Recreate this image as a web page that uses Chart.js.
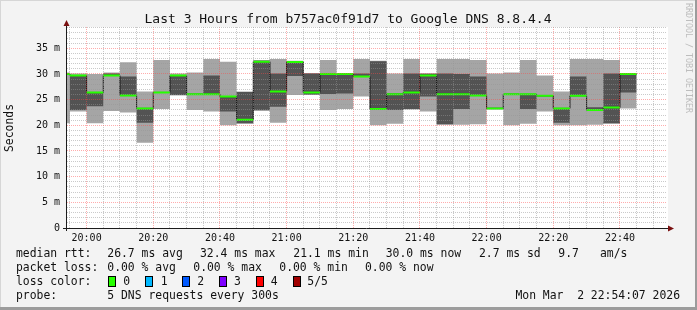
<!DOCTYPE html>
<html>
<head>
<meta charset="utf-8">
<script src="https://cdn.jsdelivr.net/npm/chart.js@4/dist/chart.umd.min.js"></script>
<style>
  html, body { margin: 0; padding: 0; background: #f3f3f3; }
  #wrap { width: 697px; height: 310px; }
</style>
</head>
<body>
<div id="wrap"><canvas id="rrd" width="697" height="310"></canvas></div>
<script>
// --- data: one entry per 5 minute bin, keyed by bin end time ---
const binEnds = ['19:55', '20:00', '20:05', '20:10', '20:15', '20:20', '20:25', '20:30', '20:35', '20:40',
  '20:45', '20:50', '20:55', '21:00', '21:05', '21:10', '21:15', '21:20', '21:25', '21:30',
  '21:35', '21:40', '21:45', '21:50', '21:55', '22:00', '22:05', '22:10', '22:15', '22:20',
  '22:25', '22:30', '22:35', '22:40', '22:45'];

// sorted ping values (ms), 5 pings per bin
const pingMin = [20.4, 22.7, 20.4, 22.8, 22.5, 16.6, 23.2, 25.8, 23.0, 22.7,
  20.0, 20.3, 22.8, 20.5, 25.9, 25.9, 23.0, 23.2, 25.6, 20.0,
  20.3, 23.1, 22.7, 20.1, 20.1, 20.2, 23.1, 20.0, 20.3, 22.7,
  20.0, 20.0, 20.1, 20.3, 23.3];
const ping2 = [29.9, 23.0, 23.7, 29.7, 25.8, 20.5, 26.3, 25.9, 25.95, 26.0,
  22.7, 20.4, 23.0, 23.6, 29.6, 26.0, 26.1, 26.2, 29.4, 23.1,
  23.0, 23.2, 25.6, 20.2, 23.2, 25.7, 23.2, 25.95, 23.2, 25.65,
  20.5, 25.7, 22.9, 20.4, 26.4];
const median = [30.0, 29.7, 26.4, 29.7, 25.8, 23.3, 26.4, 29.7, 26.05, 26.05,
  25.6, 21.1, 32.4, 26.6, 32.35, 26.4, 30.0, 30.0, 29.5, 23.2,
  26.05, 26.4, 29.7, 26.05, 26.05, 25.8, 23.3, 26.05, 26.05, 25.75,
  23.3, 25.75, 23.0, 23.45, 30.0];
const ping4 = [30.1, 29.7, 26.4, 30.1, 29.5, 23.3, 26.5, 29.7, 26.15, 29.7,
  25.6, 26.5, 32.6, 30.1, 32.4, 30.1, 30.1, 30.1, 30.1, 32.5,
  26.2, 30.1, 30.0, 30.1, 30.0, 29.5, 23.4, 26.15, 26.1, 25.85,
  23.35, 29.5, 23.5, 30.1, 30.1];
const pingMax = [30.3, 30.1, 30.0, 30.3, 32.3, 26.6, 32.7, 30.1, 30.3, 32.9,
  32.4, 26.6, 32.7, 32.9, 32.6, 30.2, 32.7, 30.2, 32.9, 32.6,
  30.1, 32.9, 30.2, 32.9, 32.9, 32.7, 30.1, 30.3, 32.7, 29.7,
  26.6, 32.9, 32.9, 32.7, 30.2];

const xTickLabels = ['20:00', '20:20', '20:40', '21:00', '21:20', '21:40', '22:00', '22:20', '22:40'];
const yTickLabels = ['0', '5 m', '10 m', '15 m', '20 m', '25 m', '30 m', '35 m'];

const viewStart = '19:54:07';
const viewEnd = '22:54:07';
const yTop = 39.15;
const BIN = 5;

const MONO = '"DejaVu Sans Mono", monospace';

// minutes relative to 20:00
const toMin = t => {
  const [h, m, s = 0] = t.split(':').map(Number);
  return h * 60 + m + s / 60 - 20 * 60;
};

const starts = binEnds.map(t => toMin(t) - BIN);

// stepped series: one point per bin start plus the final bin end
function stepData(vals) {
  const pts = vals.map((v, i) => ({ x: starts[i], y: v }));
  pts.push({ x: starts[starts.length - 1] + BIN, y: vals[vals.length - 1] });
  return pts;
}

// flat pieces only, broken between bins
function pieceData(vals) {
  const pts = [];
  vals.forEach((v, i) => {
    pts.push({ x: starts[i], y: v }, { x: starts[i] + BIN, y: v }, { x: starts[i] + BIN, y: null });
  });
  return pts;
}

const noLine = { borderWidth: 0, borderColor: 'rgba(0,0,0,0)', pointRadius: 0, stepped: true };

const datasets = [
  { ...noLine, label: 'max', data: stepData(pingMax), fill: 1, backgroundColor: '#a5a5a5', order: 5 },
  { ...noLine, label: 'min', data: stepData(pingMin), fill: false, order: 5 },
  { ...noLine, label: 'p4', data: stepData(ping4), fill: 3, backgroundColor: '#535353', order: 4 },
  { ...noLine, label: 'p2', data: stepData(ping2), fill: false, order: 4 },
  { label: 'median step', data: stepData(median), stepped: true, fill: false,
    borderColor: '#151515', borderWidth: 1, pointRadius: 0, order: 2 },
  { label: 'median', data: pieceData(median), fill: false, spanGaps: false,
    borderColor: '#26ff00', borderWidth: 2, borderCapStyle: 'butt', pointRadius: 0, order: 1 }
];

const gridColor = (v, major) => (v % major === 0 ? 'rgba(255,70,70,0.45)' : 'rgba(150,150,150,0.5)');

// legend rows under the graph
const legendRows = [
  { y: 254.5, parts: [[16, 'median rtt:'], [107.3, '26.7 ms avg'], [200, '32.4 ms max'], [293.3, '21.1 ms min'],
    [385.7, '30.0 ms now'], [479, '2.7 ms sd'], [558.3, '9.7'], [600, 'am/s']] },
  { y: 268.5, parts: [[16, 'packet loss:'], [107.3, '0.00 % avg'], [193.3, '0.00 % max'], [279.3, '0.00 % min'],
    [365, '0.00 % now']] },
  { y: 282, parts: [[16, 'loss color:'], [123.3, '0'], [160.7, '1'], [197.3, '2'], [234, '3'], [270.7, '4'], [307.3, '5/5']] },
  { y: 296, parts: [[16, 'probe:'], [107.3, '5 DNS requests every 300s']] }
];
const lossBoxes = [[108.5, '#26ff00'], [145.5, '#00b8ff'], [182.5, '#0059ff'], [219.5, '#7e00ff'], [256.5, '#ff0000'], [293.5, '#a00000']];

const rrdFrame = {
  id: 'rrdFrame',
  beforeDraw(chart) {
    const { ctx, chartArea: a, width, height } = chart;
    ctx.save();
    ctx.fillStyle = '#f3f3f3';
    ctx.fillRect(0, 0, width, height);
    ctx.fillStyle = '#d6d6d6';
    ctx.fillRect(0, 0, width, 1);
    ctx.fillRect(0, 0, 1, height);
    ctx.fillStyle = '#9c9c9c';
    ctx.fillRect(0, height - 3, width, 3);
    ctx.fillRect(width - 2, 0, 2, height);
    ctx.fillStyle = '#ffffff';
    ctx.fillRect(a.left, a.top, a.right - a.left + 1, a.bottom - a.top);
    ctx.restore();
  },
  afterDraw(chart) {
    const { ctx, chartArea: a } = chart;
    ctx.save();

    // axes
    ctx.strokeStyle = '#1c1c1c';
    ctx.lineWidth = 1;
    ctx.beginPath();
    ctx.moveTo(63, a.bottom + 0.5);
    ctx.lineTo(a.right + 3, a.bottom + 0.5);
    ctx.moveTo(a.left - 0.5, a.bottom + 3);
    ctx.lineTo(a.left - 0.5, a.top - 2);
    ctx.stroke();

    // arrow heads
    ctx.fillStyle = '#7a1010';
    ctx.beginPath();
    ctx.moveTo(a.right + 1, a.bottom - 2.5);
    ctx.lineTo(a.right + 7, a.bottom + 0.5);
    ctx.lineTo(a.right + 1, a.bottom + 3.5);
    ctx.closePath();
    ctx.fill();
    ctx.beginPath();
    ctx.moveTo(a.left - 3.5, a.top - 1);
    ctx.lineTo(a.left - 0.5, a.top - 7);
    ctx.lineTo(a.left + 2.5, a.top - 1);
    ctx.closePath();
    ctx.fill();

    // title
    ctx.fillStyle = '#111';
    ctx.textBaseline = 'middle';
    ctx.textAlign = 'center';
    ctx.font = '13px ' + MONO;
    ctx.fillText('Last 3 Hours from b757ac0f91d7 to Google DNS 8.8.4.4', 348, 20);

    // y axis title
    ctx.save();
    ctx.translate(10, 128);
    ctx.rotate(-Math.PI / 2);
    ctx.font = '11.4px ' + MONO;
    ctx.fillText('Seconds', 0, 0);
    ctx.restore();

    // watermark
    ctx.save();
    ctx.translate(688, 3);
    ctx.rotate(Math.PI / 2);
    ctx.textAlign = 'left';
    ctx.fillStyle = '#bdbdbd';
    ctx.font = '8.3px ' + MONO;
    ctx.fillText('RRDTOOL / TOBI OETIKER', 0, 0);
    ctx.restore();

    // legend
    ctx.textAlign = 'left';
    ctx.font = '11.4px ' + MONO;
    ctx.fillStyle = '#111';
    legendRows.forEach(row => {
      row.parts.forEach(([x, t]) => ctx.fillText(t, x, row.y));
    });
    ctx.textAlign = 'right';
    ctx.fillText('Mon Mar  2 22:54:07 2026', 680, 296);

    lossBoxes.forEach(([x, c]) => {
      ctx.fillStyle = c;
      ctx.fillRect(x, 276.5, 7, 10);
      ctx.strokeStyle = '#000';
      ctx.strokeRect(x, 276.5, 7, 10);
    });

    ctx.restore();
  }
};

new Chart(document.getElementById('rrd'), {
  type: 'line',
  data: { datasets },
  options: {
    responsive: false,
    animation: false,
    devicePixelRatio: 1,
    layout: { padding: { left: 0, top: 27, right: 30, bottom: 68 } },
    elements: { point: { radius: 0 }, line: { tension: 0 } },
    plugins: {
      legend: { display: false },
      tooltip: { enabled: false },
      title: { display: false }
    },
    scales: {
      x: {
        type: 'linear',
        min: toMin(viewStart),
        max: toMin(viewEnd),
        afterBuildTicks: s => {
          const t = [];
          for (let v = -5; v <= s.max; v += 5) t.push({ value: v });
          s.ticks = t;
        },
        afterFit: s => { s.height = 14; s.paddingLeft = 0; s.paddingRight = 0; },
        ticks: {
          autoSkip: false, maxRotation: 0, minRotation: 0, padding: 4,
          font: { family: MONO, size: 10 }, color: '#111',
          callback: v => (v % 20 === 0 ? xTickLabels[v / 20] : '')
        },
        grid: { z: 1, drawTicks: false, color: c => gridColor(c.tick.value, 20) },
        border: { display: false, dash: [1, 1] }
      },
      y: {
        type: 'linear',
        min: 0,
        max: yTop,
        afterBuildTicks: s => {
          const t = [];
          for (let v = 0; v <= s.max; v += 1) t.push({ value: v });
          s.ticks = t;
        },
        afterFit: s => { s.width = 67; s.paddingTop = 0; s.paddingBottom = 0; },
        ticks: {
          autoSkip: false, padding: 7,
          font: { family: MONO, size: 10 }, color: '#111',
          callback: v => (v % 5 === 0 ? yTickLabels[v / 5] : '')
        },
        grid: { z: 1, drawTicks: false, color: c => gridColor(c.tick.value, 5) },
        border: { display: false, dash: [1, 1] }
      }
    }
  },
  plugins: [rrdFrame]
});
</script>
</body>
</html>
